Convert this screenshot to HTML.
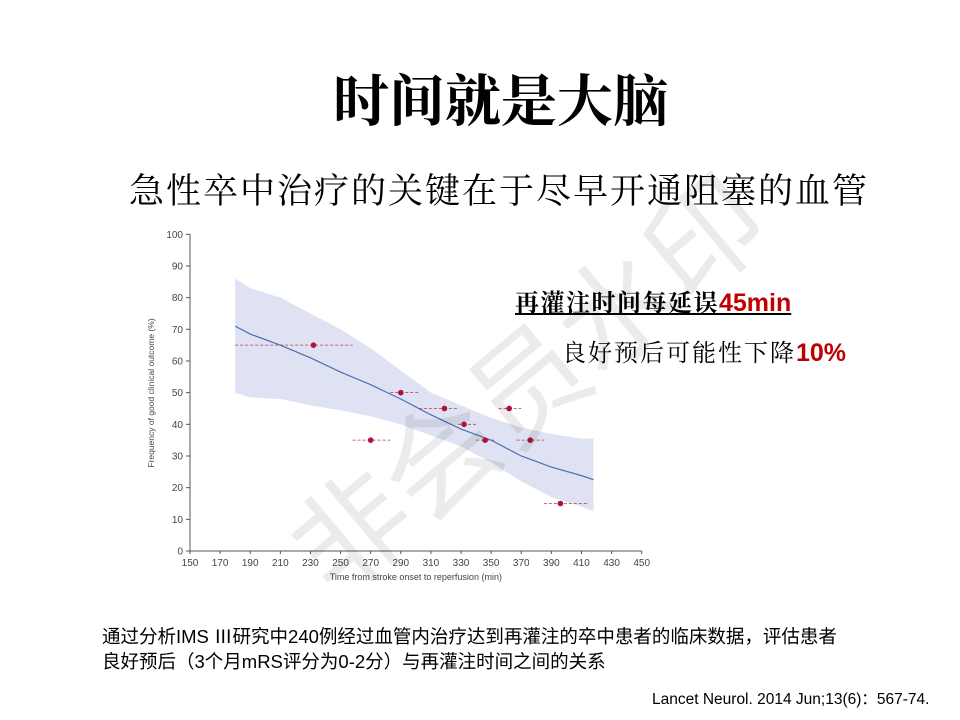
<!DOCTYPE html>
<html><head><meta charset="utf-8">
<style>
body{margin:0;width:960px;height:720px;background:#fff;overflow:hidden;position:relative;font-family:"Liberation Sans","Noto Sans CJK SC",sans-serif}
.a{position:absolute;white-space:nowrap}
</style></head><body>
<div class="a" style="left:0;width:1002px;text-align:center;top:58px;font-size:56px;font-weight:bold;font-family:'Liberation Serif','Noto Serif CJK SC',serif;color:#000">时间就是大脑</div>
<div class="a" style="left:129px;top:164px;font-size:35px;font-family:'Liberation Serif','Noto Serif CJK SC',serif;color:#000;letter-spacing:2px">急性卒中治疗的关键在于尽早开通阻塞的血管</div>
<svg id="chart" class="a" style="left:0;top:0" width="960" height="720"></svg>
<div class="a" style="left:515px;top:283px;font-size:24px;font-weight:bold;font-family:'Liberation Serif','Noto Serif CJK SC',serif;text-decoration:underline;color:#000;letter-spacing:1.5px">再灌注时间每延误<span style="color:#c00000;font-family:'Liberation Sans',sans-serif;letter-spacing:0;font-size:25px">45min</span></div>
<div class="a" style="left:562px;top:333px;font-size:24px;color:#000;font-family:'Liberation Serif','Noto Serif CJK SC',serif;letter-spacing:2px">良好预后可能性下降<b style="color:#c00000;font-family:'Liberation Sans',sans-serif;letter-spacing:0;font-size:25px">10%</b></div>
<div class="a" style="left:102px;top:624px;font-size:18.5px;line-height:25px;color:#000">通过分析IMS Ⅲ研究中240例经过血管内治疗达到再灌注的卒中患者的临床数据，评估患者<br>良好预后（3个月mRS评分为0-2分）与再灌注时间之间的关系</div>
<div class="a" style="left:652px;top:687px;font-size:15.5px;color:#000">Lancet Neurol. 2014 Jun;13(6)：567-74.</div>
<div class="a" style="left:250px;top:500px;font-size:115px;color:rgba(0,0,0,0.08);transform:rotate(-40deg);transform-origin:left top;font-family:'Noto Sans CJK SC',sans-serif">非会员水印</div>
<script>
const xTicks=[150,170,190,210,230,250,270,290,310,330,350,370,390,410,430,450];
const yTicks=[0,10,20,30,40,50,60,70,80,90,100];
const pointX=[232,270,290,319,332,346,362,376,396];
const pointY=[65,35,50,45,40,35,45,35,15];
const errLo=[180,258,283,302,328,340,355,367,385];
const errHi=[258,283,302,328,340,352,370,385,415];
const lineX=[180,190,210,230,250,270,290,310,330,350,370,390,410,418];
const lineY=[71,68.5,65,61,56.5,52.5,48,43,38.5,35,30,26.5,23.8,22.5];
const bandUp=[86,83,80,75,70,64,57,50,46,42,39,37,35.5,35.5];
const bandLo=[50,48.5,48,46,44.5,42.5,40,36.5,33,28,22,17,14,12.5];
const ns="http://www.w3.org/2000/svg",svg=document.getElementById('chart');
const X=v=>190+(v-150)*451.7/300, Y=v=>551-v*3.167;
function mk(t,a,nm){const e=document.createElementNS(ns,t);for(const k in a)e.setAttribute(k,a[k]);


svg.appendChild(e);return e;}
let d=lineX.map((x,i)=>(i?'L':'M')+X(x)+','+Y(bandUp[i])).join('')+lineX.slice().reverse().map((x,i)=>'L'+X(x)+','+Y(bandLo[lineX.length-1-i])).join('')+'Z';
mk('path',{d:d,fill:'#dfe2f2'},'confidence-band');
mk('path',{d:lineX.map((x,i)=>(i?'L':'M')+X(x)+','+Y(lineY[i])).join(''),fill:'none',stroke:'#4a72b0','stroke-width':1.2},'fit-line');
mk('line',{x1:190,y1:Y(0),x2:X(450),y2:Y(0),stroke:'#555'},'x-axis');
mk('line',{x1:190,y1:Y(0),x2:190,y2:Y(100),stroke:'#555'},'y-axis');
xTicks.forEach(v=>{mk('line',{x1:X(v),x2:X(v),y1:Y(0),y2:Y(0)+3,stroke:'#555'},'x-tick');
const t=mk('text',{x:X(v),y:566,'font-size':10,'text-anchor':'middle',fill:'#444','font-family':'Liberation Sans'},'x-tick-label');t.textContent=v;});
yTicks.forEach(v=>{mk('line',{x1:186,x2:190,y1:Y(v),y2:Y(v),stroke:'#555'},'y-tick');
const t=mk('text',{x:183,y:Y(v)+3.5,'font-size':10,'text-anchor':'end',fill:'#444','font-family':'Liberation Sans'},'y-tick-label');t.textContent=v;});
let t=mk('text',{x:X(300),y:580,'font-size':9,'text-anchor':'middle',fill:'#444','font-family':'Liberation Sans'},'x-axis-title');t.textContent='Time from stroke onset to reperfusion (min)';
t=mk('text',{x:0,y:0,'font-size':8.5,'text-anchor':'middle',fill:'#444','font-family':'Liberation Sans',transform:'translate(154,393) rotate(-90)'},'y-axis-title');t.textContent='Frequency of good clinical outcome (%)';
pointX.forEach((x,i)=>{mk('line',{x1:X(errLo[i]),x2:X(errHi[i]),y1:Y(pointY[i]),y2:Y(pointY[i]),stroke:'#c0305a','stroke-width':0.8,'stroke-dasharray':'3,2'},'error-bar');
mk('circle',{cx:X(x),cy:Y(pointY[i]),r:2.8,fill:'#b0103a'},'data-point');});
</script>
</body></html>
